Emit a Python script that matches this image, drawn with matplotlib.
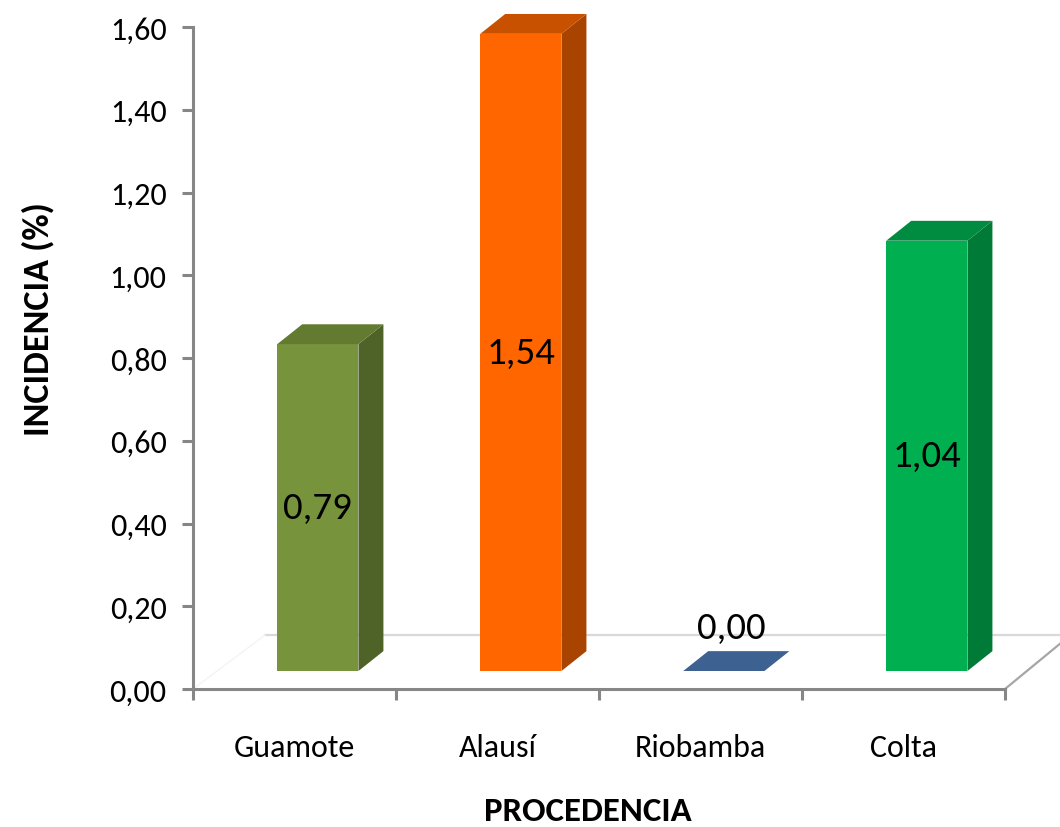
import matplotlib
matplotlib.use("Agg")
import matplotlib.pyplot as plt
from matplotlib.patches import Polygon
from matplotlib.ticker import FixedLocator, FuncFormatter

# Data
categories = ["Guamote", "Alausí", "Riobamba", "Colta"]
values = [0.79, 1.54, 0.00, 1.04]
y_ticks = [0.0, 0.2, 0.4, 0.6, 0.8, 1.0, 1.2, 1.4, 1.6]

# Face colours per bar: front, side, top
front_colors = ["#77933C", "#FF6600", "#3D6190", "#00B050"]
side_colors = ["#4F6228", "#A84300", "#2C4A70", "#007A37"]
top_colors = ["#627B31", "#C85100", "#3D6190", "#008C40"]

plt.rcParams["font.family"] = ["Carlito", "DejaVu Sans"]

W, H = 1060, 828
fig = plt.figure(figsize=(W / 100, H / 100), dpi=100)
ax = fig.add_axes([193 / W, (H - 690) / H, (1005 - 193) / W, (690 - 28) / H])
ax.set_xlim(-0.5, 3.5)
ax.set_ylim(0, 1.6)

# pseudo-3D geometry (data units)
base = 0.0435          # lift of the bar bases above the front edge of the floor
dx, dy = 0.123, 0.048  # depth offset of a bar
left_off, right_off = -0.085, 0.315
floor_dx, floor_dy = 0.355, 0.1305

# floor
ax.plot([-0.5 + floor_dx, 3.5 + floor_dx + 0.5], [floor_dy, floor_dy],
        color="#D9D9D9", lw=1.6, clip_on=False, zorder=1)
ax.plot([3.5, 3.5 + 0.27], [0, 0.109], color="#A6A6A6", lw=1.6,
        clip_on=False, zorder=1)
ax.plot([-0.5, -0.5 + floor_dx], [0, floor_dy], color="#F4F4F4", lw=1.0,
        clip_on=False, zorder=1)

for i, v in enumerate(values):
    x0, x1 = i + left_off, i + right_off
    y0, y1 = base, base + v
    if v > 0:
        front = Polygon([(x0, y0), (x1, y0), (x1, y1), (x0, y1)], closed=True,
                        facecolor=front_colors[i], edgecolor="none", zorder=3,
                        clip_on=False)
        side = Polygon([(x1, y0), (x1 + dx, y0 + dy), (x1 + dx, y1 + dy), (x1, y1)],
                       closed=True, facecolor=side_colors[i], edgecolor="none",
                       zorder=3, clip_on=False)
        ax.add_patch(front)
        ax.add_patch(side)
    top = Polygon([(x0, y1), (x1, y1), (x1 + dx, y1 + dy), (x0 + dx, y1 + dy)],
                  closed=True, facecolor=top_colors[i], edgecolor="none",
                  zorder=3, clip_on=False)
    ax.add_patch(top)

    label = f"{v:.2f}".replace(".", ",")
    if v > 0.1:
        lx, ly = (x0 + x1) / 2, base + v / 2
    else:
        lx, ly = (x0 + x1) / 2 + dx * 0.3, base + v + 0.105
    ax.text(lx, ly, label, ha="center", va="center", fontsize=28,
            color="#000000", zorder=5)

# axes styling
for s in ["top", "right"]:
    ax.spines[s].set_visible(False)
for s in ["left", "bottom"]:
    ax.spines[s].set_color("#868686")
    ax.spines[s].set_linewidth(2.2)

ax.yaxis.set_major_locator(FixedLocator(y_ticks))
ax.yaxis.set_major_formatter(FuncFormatter(lambda v, p: f"{v:.2f}".replace(".", ",")))
ax.tick_params(axis="y", length=8, width=2.2, color="#868686", labelsize=23,
               pad=11)

ax.set_xticks([-0.5, 0.5, 1.5, 2.5, 3.5])
ax.set_xticklabels([])
ax.set_xticks(range(len(categories)), minor=True)
ax.set_xticklabels(categories, minor=True)
ax.tick_params(axis="x", which="major", length=8, width=2.2, color="#868686",
               direction="out")
ax.tick_params(axis="x", which="minor", length=0, labelsize=23, pad=32)

ax.set_ylabel("INCIDENCIA (%)", fontsize=26, fontweight="bold")
ax.yaxis.label.set_va("center")
ax.yaxis.set_label_coords((38 - 193) / 812, (690 - 319) / 662)
ax.set_xlabel("PROCEDENCIA", fontsize=25, fontweight="bold")
ax.xaxis.label.set_va("center")
ax.xaxis.set_label_coords((588 - 193) / 812, (690 - 812) / 662)

fig.savefig("out.png", dpi=100)
